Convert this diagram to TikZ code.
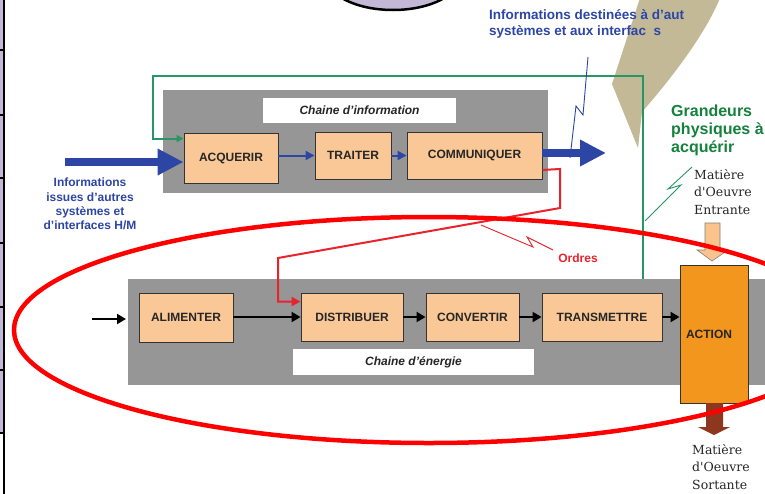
\documentclass[tikz,border=0pt]{standalone}
\usepackage{fontspec}
\setmainfont{Liberation Sans}
\newfontfamily\serifdv{DejaVu Serif}
\usetikzlibrary{arrows.meta}
\definecolor{grayband}{RGB}{150,150,150}
\definecolor{boxfill}{RGB}{250,200,150}
\definecolor{infoblue}{RGB}{45,70,165}
\definecolor{ordred}{RGB}{232,35,45}
\definecolor{grn}{RGB}{40,150,100}
\definecolor{grntext}{RGB}{20,130,60}
\definecolor{tanshape}{RGB}{195,185,150}
\definecolor{lav}{RGB}{195,185,215}
\definecolor{actor}{RGB}{242,150,30}
\definecolor{brownar}{RGB}{140,55,30}
\definecolor{ltan}{RGB}{250,195,140}
\newcommand\myfs[2]{\fontsize{#1}{#2}\selectfont}
\begin{document}
\begin{tikzpicture}[x=1pt,y=-1pt,
  fbox/.style={draw=black!80, line width=0.9pt, fill=boxfill, text=black!85, font=\bfseries\myfs{12}{13}, inner sep=0pt},
  band/.style={fill=grayband, draw=none, inner sep=0pt},
  lab/.style={fill=white, inner sep=0pt, font=\bfseries\itshape\myfs{12}{13}, text=black!85},
  barrow/.style={draw=infoblue, line width=2pt, -{Triangle[length=9pt,width=9pt]}},
  bigarrow/.style={draw=infoblue, line width=8pt, -{Triangle[length=26pt,width=25pt]}},
  karrow/.style={draw=black, line width=2pt, -{Triangle[length=9pt,width=10pt]}},
  gline/.style={draw=grn, line width=2pt, -{Triangle[length=7pt,width=7pt]}},
  rline/.style={draw=ordred, line width=2pt, -{Triangle[length=9pt,width=9pt]}},
  bolt/.style={line width=0.9pt},
  bluetext/.style={text=infoblue, font=\bfseries\myfs{12}{14.3}, inner sep=0pt},
  seriftext/.style={font=\serifdv\myfs{12.5}{17.5}, align=left, inner sep=0pt, anchor=north west, text=black!85}
]
\useasboundingbox (0,0) rectangle (765,493);
\clip (0,0) rectangle (765,493);
\fill[white] (0,0) rectangle (765,493);

% green feedback line
\coordinate (gA) at (643,279);
\coordinate (gB) at (643,76);
\coordinate (gC) at (153,76);

% tan curved shape (top right)
\fill[tanshape] (640,-2) -- (612,84) -- (638,148) -- (642,112)
  .. controls (670,80) and (705,35) .. (720,-2) -- cycle;

% top blue text
\node[bluetext, font=\bfseries\myfs{13.5}{16}, align=left, anchor=north west] (outtxt) at (489,9)
  {Informations destinées à d'aut\\systèmes et aux interfac\phantom{e}s};

% gray bands
\node[band, minimum width=385pt, minimum height=103pt] (iband) at (355.5,141.5) {};
\node[band, minimum width=642pt, minimum height=106pt] (eband) at (449,332) {};
\node[lab, minimum width=193pt, minimum height=25pt] (ilab) at (359.5,110.5) {Chaine d'information};
\node[lab, minimum width=241pt, minimum height=26pt] (elab) at (413.5,362) {Chaine d'énergie};

% information chain boxes
\node[fbox, minimum width=94pt, minimum height=50pt] (acq) at (231,158) {ACQUERIR};
\node[fbox, minimum width=76pt, minimum height=47pt] (trt) at (353,155.5) {TRAITER};
\node[fbox, minimum width=135pt, minimum height=47pt] (com) at (474.5,155.5) {COMMUNIQUER};

% energy chain boxes
\node[fbox, minimum width=94pt, minimum height=49pt] (ali) at (186,317.5) {ALIMENTER};
\node[fbox, minimum width=102pt, minimum height=48pt] (dis) at (352,317) {DISTRIBUER};
\node[fbox, minimum width=93pt, minimum height=48pt] (con) at (472.5,317) {CONVERTIR};
\node[fbox, minimum width=120pt, minimum height=48pt] (tsm) at (602,317) {TRANSMETTRE};
\node[fbox, fill=actor, minimum width=68pt, minimum height=138pt] (act) at (714,334) {ACTION\hspace*{10pt}};

% green line
\draw[gline] (gA) -- (gB) -- (gC) |- ([yshift=-6pt]acq.north west);

% info arrows
\coordinate (inL) at (65,162);
\draw[bigarrow] (inL) -- (inL -| acq.west);
\draw[barrow] (acq.east |- trt.west) -- (trt.west);
\draw[barrow] (trt.east) -- (com.west);
\coordinate (outR) at (606,153);
\draw[bigarrow] (com.east |- outR) -- (outR);

% energy arrows
\coordinate (eIn) at (92,319);
\coordinate (eInEnd) at (126,319);
\draw[karrow] (eIn) -- (eInEnd);
\draw[karrow] (ali.east |- dis.west) -- (dis.west);
\draw[karrow] (dis.east) -- (con.west);
\draw[karrow] (con.east) -- (tsm.west);
\draw[karrow] (tsm.east) -- (tsm.east -| act.west);

% red orders line
\coordinate (rA) at (560,169);
\coordinate (rB) at (560,208);
\coordinate (rC) at (278,258);
\draw[rline] ([yshift=9.5pt]com.south east) -- (rA) -- (rB) -- (rC) |- ([yshift=-9pt]dis.north west);

% lightning bolts
\draw[bolt, draw=infoblue] (588,57) -- (583,115) -- (576,106) -- (570,158);
\draw[bolt, draw=ordred] (481,225) -- (533,247) -- (527,237) -- (553,250);
\draw[bolt, draw=grn] (692,167) -- (668,189) -- (681,185) -- (645,221);

% texts
\node[bluetext, align=center] (intxt) at (90,204)
  {Informations\\issues d'autres\\systèmes et\\d'interfaces H/M};
\node[text=ordred, font=\bfseries\myfs{12}{14}, inner sep=0pt] (ordres) at (578,258) {Ordres};
\node[text=grntext, font=\bfseries\myfs{16}{18}, align=left, anchor=north west, inner sep=0pt] (grand) at (671,105)
  {Grandeurs\\physiques à\\acquérir};
\node[seriftext] (mEnt) at (694,169) {Matière\\d'Oeuvre\\Entrante};
\node[seriftext] (mSor) at (692,444) {Matière\\d'Oeuvre\\Sortante};

% matter arrows
\filldraw[fill=ltan, draw=black!50, line width=0.6pt] (705,223) -- (720,223) -- (720,250) -- (728,250)
  -- (712,261) -- (697,250) -- (705,250) -- cycle;
\fill[brownar] (706,403) -- (723,403) -- (723,427) -- (730,427) -- (714,435) -- (698,427) -- (706,427) -- cycle;

% red ellipse
\draw[red, line width=4.5pt] (429,330) ellipse [x radius=415, y radius=113];

% left border
\fill[lav] (0,0) rectangle (3,433);
\draw[line width=2pt] (4,-2) -- (4,495);
\foreach \yy in {50,115,178,243,307,370,433} \draw[line width=1.5pt] (0,\yy) -- (4,\yy);

% top ellipse
\draw[fill=lav, line width=2.5pt] (393,-25) ellipse [x radius=68, y radius=35];
\end{tikzpicture}
\end{document}
